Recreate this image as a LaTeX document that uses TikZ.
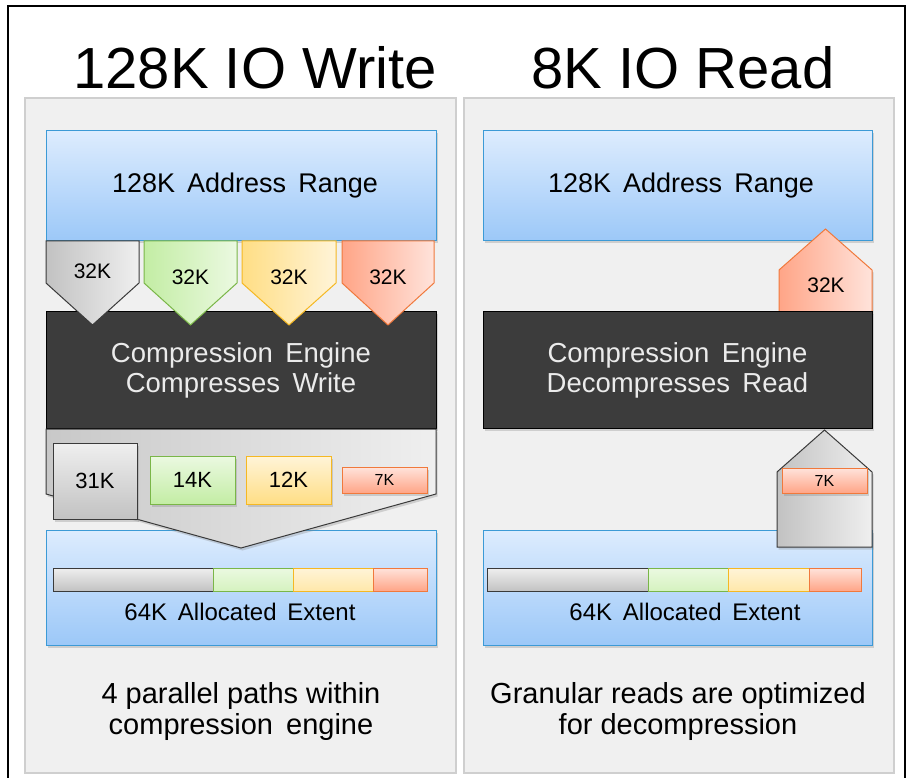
\documentclass[tikz,border=0pt]{standalone}
\usepackage{fontspec}
\setmainfont{Liberation Sans}
\usetikzlibrary{shadows}
\definecolor{panelfill}{HTML}{F0F0F0}
\definecolor{paneldraw}{HTML}{CFCFCF}
\definecolor{bluetop}{HTML}{DDECFE}
\definecolor{bluebot}{HTML}{9CC8F8}
\definecolor{blueline}{HTML}{3C9AD6}
\definecolor{darkfill}{HTML}{3C3C3C}
\definecolor{graylight}{HTML}{EFEFEF}
\definecolor{graydark}{HTML}{C2C2C2}
\definecolor{grayline}{HTML}{3A3A3A}
\definecolor{greenlight}{HTML}{EBF9E1}
\definecolor{greendark}{HTML}{C3EDA4}
\definecolor{greenline}{HTML}{7AB648}
\definecolor{yellowlight}{HTML}{FFF4D8}
\definecolor{yellowdark}{HTML}{FFDE85}
\definecolor{yellowline}{HTML}{F5B823}
\definecolor{orangelight}{HTML}{FFE3DB}
\definecolor{orangedark}{HTML}{FFA587}
\definecolor{orangeline}{HTML}{F0793C}
\newcommand\ws{\hspace{0.45em}}
\tikzset{
  panel/.style={fill=panelfill, draw=paneldraw, line width=1.5pt},
  shad/.style={drop shadow={opacity=0.3, shadow xshift=1.5pt, shadow yshift=-2.5pt}},
  bluebox/.style={draw=blueline, line width=1pt, top color=bluetop, bottom color=bluebot, shad, inner sep=0pt},
  darkbox/.style={draw=black, line width=1pt, fill=darkfill, text=white!92!black, shad, inner sep=0pt, align=center, font=\fontsize{27.5}{30}\selectfont},
  chev/.style={line width=1pt, line join=miter},
  gchev/.style={chev, draw=grayline, left color=graydark, right color=graylight},
  ochev/.style={chev, draw=greenline, left color=greendark, right color=greenlight},
  ychev/.style={chev, draw=yellowline, left color=yellowdark, right color=yellowlight},
  rchev/.style={chev, draw=orangeline, left color=orangedark, right color=orangelight},
  sbox/.style={inner sep=0pt, line width=1pt, shad, font=\fontsize{22}{24}\selectfont},
  gbox/.style={sbox, draw=grayline, top color=graylight, bottom color=graydark},
  obox/.style={sbox, draw=greenline, top color=greenlight, bottom color=greendark},
  ybox/.style={sbox, draw=yellowline, top color=yellowlight, bottom color=yellowdark},
  rbox/.style={sbox, draw=orangeline, top color=orangelight, bottom color=orangedark},
  seg/.style={inner sep=0pt, line width=1pt, minimum height=23pt},
  lbl/.style={inner sep=0pt, font=\fontsize{21}{23}\selectfont},
  title/.style={inner sep=0pt, font=\fontsize{58}{60}\selectfont},
  boxtext/.style={inner sep=0pt, font=\fontsize{27}{29}\selectfont},
  exttext/.style={inner sep=0pt, font=\fontsize{24}{26}\selectfont},
  caption/.style={inner sep=0pt, align=center, font=\fontsize{29}{31}\selectfont},
}
\begin{document}
\begin{tikzpicture}[x=1pt, y=-1pt]
\useasboundingbox (0,0) rectangle (911,778);
\fill[white] (0,0) rectangle (911,778);
\draw[line width=2pt] (8,790) -- (8,6) -- (905,6) -- (905,790);

% titles
\node[title] (t1) at (255,68) {128K IO Write};
\node[title] (t2) at (683,68) {8K IO Read};

% panels
\draw[panel] (25,98) rectangle (456,773);
\draw[panel] (464,98) rectangle (894,773);

% ===== left panel =====
\node[bluebox, minimum width=390pt, minimum height=110pt] (addrL) at (241,186) {};
\node[boxtext] (addrLt) at (245,186) {128K\ws Address\ws Range};
\node[darkbox, minimum width=390pt, minimum height=116pt] (engL) at (241,370) {Compression\ws Engine\\Compresses\ws Write};

\draw[gchev] (46,241) -- (139,241) -- (139,283) -- (92.5,325) -- (46,283) -- cycle;
\draw[ochev] (144,241) -- (237,241) -- (237,283) -- (190.5,325) -- (144,283) -- cycle;
\draw[ychev] (242,241) -- (336,241) -- (336,283) -- (289,325) -- (242,283) -- cycle;
\draw[rchev] (342,241) -- (434,241) -- (434,283) -- (388,325) -- (342,283) -- cycle;
\node[lbl] (c1) at (92.5,271) {32K};
\node[lbl] (c2) at (190.5,277) {32K};
\node[lbl] (c3) at (289,277) {32K};
\node[lbl] (c4) at (388,277) {32K};

\node[bluebox, minimum width=390pt, minimum height=115pt] (extL) at (241,587.5) {};

\draw[chev, draw=grayline, left color=graydark!90, right color=graylight, shad] (46,429) -- (436,429) -- (436,494) -- (241,548) -- (46,494) -- cycle;

\node[gbox, minimum width=84pt, minimum height=76pt] (k31) at (95,481) {31K};
\node[obox, minimum width=85pt, minimum height=48pt] (k14) at (192.5,480) {14K};
\node[ybox, minimum width=85pt, minimum height=48pt] (k12) at (288.5,480) {12K};
\node[rbox, minimum width=85pt, minimum height=26pt, font=\fontsize{16}{18}\selectfont] (k7) at (384.5,480) {7K};

\node[seg, draw=grayline, top color=graylight, bottom color=graydark, minimum width=160pt] (b1) at (133,579.5) {};
\node[seg, draw=greenline, top color=greenlight, bottom color=greendark!70, minimum width=80pt] (b2) at (253,579.5) {};
\node[seg, draw=yellowline, top color=yellowlight, bottom color=yellowdark!70, minimum width=80pt] (b3) at (333,579.5) {};
\node[seg, draw=orangeline, top color=orangelight, bottom color=orangedark, minimum width=54pt] (b4) at (400,579.5) {};
\node[exttext] (extLt) at (240,612) {64K\ws Allocated\ws Extent};

\node[caption] (capL) at (241,711) {4 parallel paths within\\compression\ws engine};

% ===== right panel =====
\node[bluebox, minimum width=389pt, minimum height=110pt] (addrR) at (677.5,186) {};
\node[boxtext] (addrRt) at (681,186) {128K\ws Address\ws Range};
\draw[rchev, shad] (779,312) -- (872,312) -- (872,270) -- (825.5,229) -- (779,270) -- cycle;
\node[lbl] (r32) at (826,285) {32K};

\node[darkbox, minimum width=389pt, minimum height=116pt] (engR) at (677.5,370) {Compression\ws Engine\\Decompresses\ws Read};

\node[bluebox, minimum width=389pt, minimum height=115pt] (extR) at (677.5,587.5) {};

\draw[gchev, shad] (777,547) -- (872,547) -- (872,472) -- (824.5,430) -- (777,472) -- cycle;
\node[rbox, minimum width=85pt, minimum height=25pt, font=\fontsize{16}{18}\selectfont] (r7) at (824.5,480.5) {7K};

\node[seg, draw=grayline, top color=graylight, bottom color=graydark, minimum width=161pt] (rb1) at (567.5,579.5) {};
\node[seg, draw=greenline, top color=greenlight, bottom color=greendark!70, minimum width=80pt] (rb2) at (688,579.5) {};
\node[seg, draw=yellowline, top color=yellowlight, bottom color=yellowdark!70, minimum width=81pt] (rb3) at (768.5,579.5) {};
\node[seg, draw=orangeline, top color=orangelight, bottom color=orangedark, minimum width=52pt] (rb4) at (835,579.5) {};
\node[exttext] (extRt) at (685,612) {64K\ws Allocated\ws Extent};

\node[caption] (capR) at (678,711) {Granular reads are optimized\\for decompression};
\end{tikzpicture}
\end{document}
